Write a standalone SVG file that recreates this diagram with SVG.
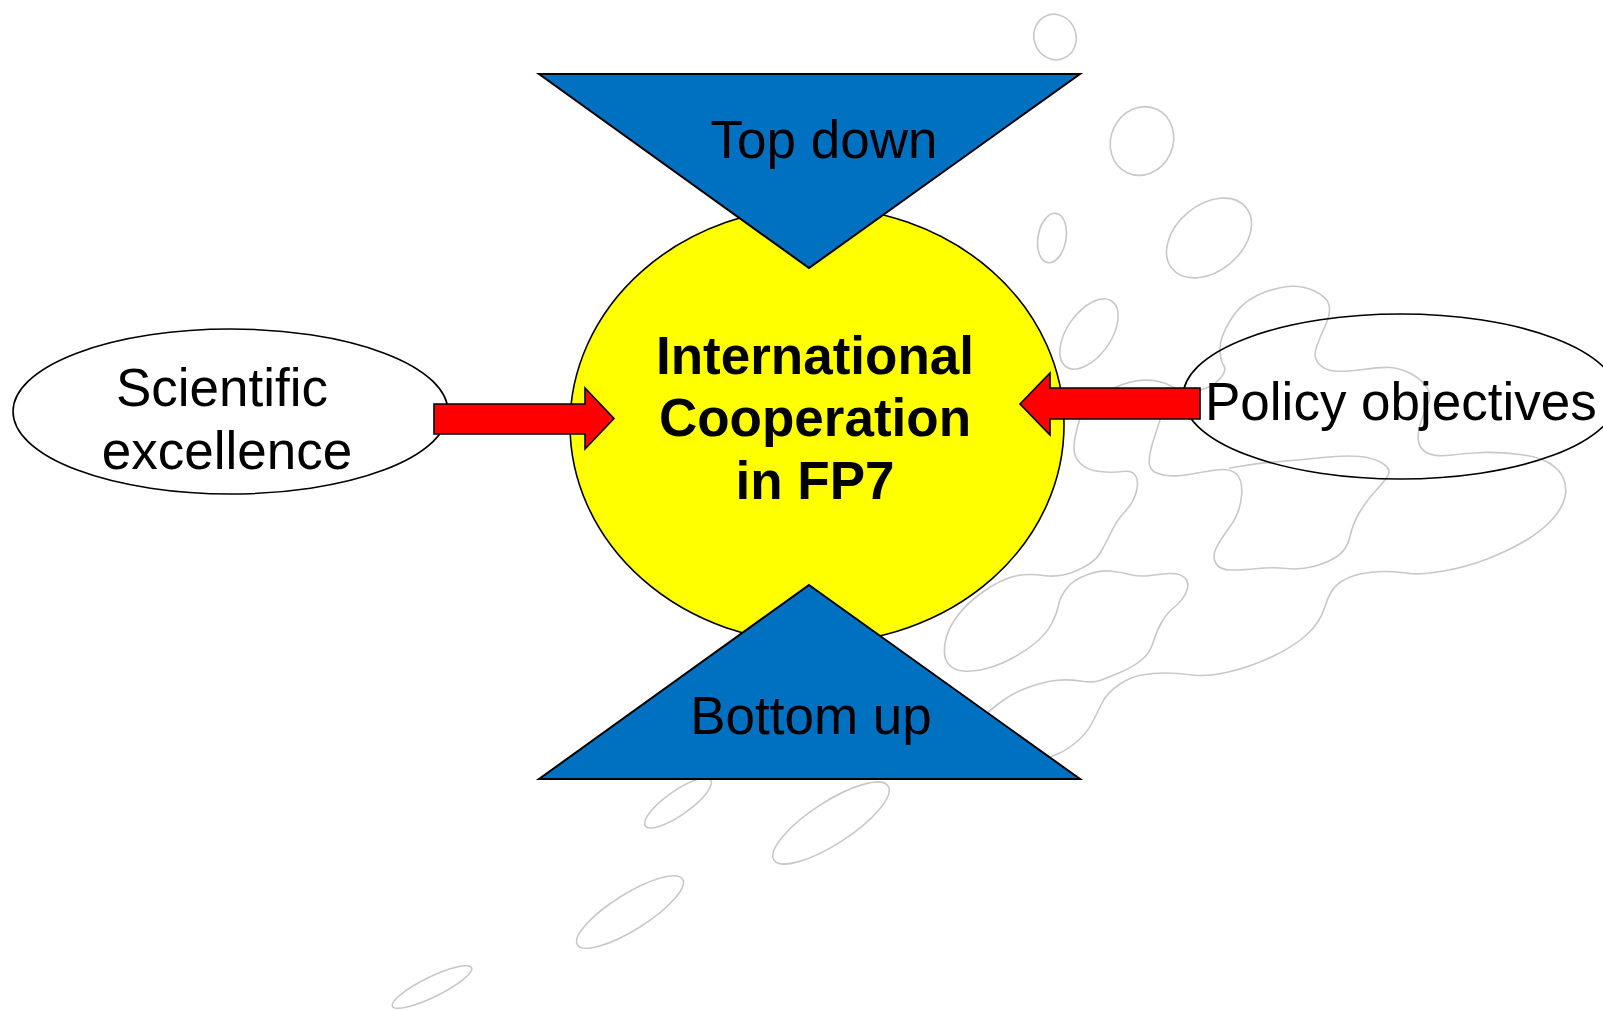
<svg xmlns="http://www.w3.org/2000/svg" width="1603" height="1011" viewBox="0 0 1603 1011">
<style>
.bg{fill:none;stroke:#c8c8c8;stroke-width:1.6;stroke-linejoin:round;stroke-linecap:round}
.tri{fill:#0070C0;stroke:#000;stroke-width:2}
.arr{fill:#FF0000;stroke:#000;stroke-width:1.6}
.oval{stroke:#000;stroke-width:1.6}
.t{font-family:"Liberation Sans",Arial,sans-serif;font-size:53px;fill:#000}
.b{font-family:"Liberation Sans",Arial,sans-serif;font-size:53px;font-weight:bold;fill:#000;text-anchor:middle}
</style>
<rect width="1603" height="1011" fill="#fff"/>
<g id="background">
<ellipse class="bg" cx="1055" cy="37" rx="21" ry="23" transform="rotate(-20 1055 37)"/>
<ellipse class="bg" cx="1142" cy="141" rx="31" ry="35" transform="rotate(25 1142 141)"/>
<ellipse class="bg" cx="1052" cy="238" rx="14" ry="25" transform="rotate(10 1052 238)"/>
<ellipse class="bg" cx="1209" cy="238" rx="33" ry="48" transform="rotate(50 1209 238)"/>
<ellipse class="bg" cx="1089" cy="334" rx="22" ry="40" transform="rotate(35 1089 334)"/>
<ellipse class="bg" cx="678" cy="803" rx="40" ry="12" transform="rotate(-35 678 803)"/>
<ellipse class="bg" cx="831" cy="823" rx="68" ry="21" transform="rotate(-33 831 823)"/>
<ellipse class="bg" cx="630" cy="912" rx="62" ry="18" transform="rotate(-32 630 912)"/>
<ellipse class="bg" cx="432" cy="987" rx="44" ry="10" transform="rotate(-26 432 987)"/>
<path class="bg" d="M1050,757 L1058.5,753.5 Q1067,750 1077,741.5 Q1087,733 1092,723 Q1097,713 1102,703 Q1107,693 1118.5,685 Q1130,677 1141.5,675 Q1153,673 1165,673 Q1177,673 1192,675 Q1207,677 1228.5,672 Q1250,667 1271.5,657 Q1293,647 1306.5,635 Q1320,623 1325,606.5 Q1330,590 1338.5,583.5 Q1347,577 1360,574 Q1373,571 1386.5,571.5 Q1400,572 1410,573.5 Q1420,575 1443.5,571 Q1467,567 1488.5,558.5 Q1510,550 1526.5,540 Q1543,530 1553,518.5 Q1563,507 1565,497 Q1567,487 1563.5,478.5 Q1560,470 1550,463.5 Q1540,457 1520,454.5 Q1500,452 1483.5,452.5 Q1467,453 1452,455 Q1437,457 1428.5,453.5 Q1420,450 1418.5,441.5 Q1417,433 1421,421.5 Q1425,410 1428.5,402.5 Q1432,395 1426,386.5 Q1420,378 1409.5,373 Q1399,368 1390,367.5 Q1381,367 1363,369.5 Q1345,372 1334.5,371 Q1324,370 1318.5,363.5 Q1313,357 1316.5,347 Q1320,337 1325.5,325 Q1331,313 1329,305 Q1327,297 1314.5,291 Q1302,285 1287.5,286.5 Q1273,288 1257,295.5 Q1241,303 1230.5,320 Q1220,337 1220,348.5 Q1220,360 1223.5,365 Q1227,370 1221,377.5 Q1215,385 1205,388.5 L1195,392"/>
<path class="bg" d="M1080,418 L1077,429 Q1074,440 1074,448.5 Q1074,457 1080.5,463.5 Q1087,470 1099.5,471.5 Q1112,473 1122.5,471.5 Q1133,470 1136,476.5 Q1139,483 1136,493 Q1133,503 1125,511.5 Q1117,520 1111,532.5 Q1105,545 1099.5,554 Q1094,563 1077,570.5 Q1060,578 1043.5,575.5 Q1027,573 1013.5,576.5 Q1000,580 983.5,591.5 Q967,603 957,616.5 Q947,630 945,643.5 Q943,657 948,663.5 Q953,670 963,671 Q973,672 986.5,668.5 Q1000,665 1013.5,657.5 Q1027,650 1037,641.5 Q1047,633 1052,623 Q1057,613 1058.5,605 Q1060,597 1066.5,588.5 Q1073,580 1086.5,575 Q1100,570 1110,571 Q1120,572 1130,574.5 Q1140,577 1150,575.5 Q1160,574 1170,573.5 Q1180,573 1185,578 Q1190,583 1186.5,591.5 Q1183,600 1175,606.5 Q1167,613 1162,621.5 Q1157,630 1153.5,641.5 Q1150,653 1141.5,660 Q1133,667 1120,672.5 Q1107,678 1100,680.5 Q1093,683 1080,681 Q1067,679 1055,680.5 Q1043,682 1028,687.5 Q1013,693 1001.5,701.5 Q990,710 982.5,717.5 L975,725"/>
<path class="bg" d="M1105,392 Q1123,383 1135.5,381 Q1148,379 1158.5,381.5 Q1169,384 1174.5,388 L1180,392"/>
<path class="bg" d="M1160,420 L1154,438.5 Q1148,457 1149.5,465 Q1151,473 1163.5,475 Q1176,477 1189,474.5 Q1202,472 1216,470 Q1230,468 1236.5,474 Q1243,480 1241.5,496.5 Q1240,513 1230,526.5 Q1220,540 1216,548.5 Q1212,557 1216,563.5 Q1220,570 1231.5,570 Q1243,570 1258,568.5 Q1273,567 1286.5,568.5 Q1300,570 1313.5,566.5 Q1327,563 1337,556.5 Q1347,550 1350,536.5 Q1353,523 1360,511.5 Q1367,500 1375,491.5 Q1383,483 1387.5,476.5 Q1392,470 1383.5,464 Q1375,458 1360,456.5 Q1345,455 1322.5,457.5 Q1300,460 1280,461.5 Q1260,463 1245,465.5 L1230,468"/>
</g>
<g id="scientific">
<ellipse class="oval" cx="230.5" cy="411.5" rx="217.5" ry="82.5" fill="#fff"/>
<text class="t" x="222" y="406" text-anchor="middle">Scientific</text>
<text class="t" x="227" y="469" text-anchor="middle">excellence</text>
</g>
<g id="center">
<ellipse cx="817" cy="425" rx="247" ry="218" fill="#FFFF00" stroke="#000" stroke-width="1.6"/>
</g>
<g id="topdown">
<polygon class="tri" points="539,74 1080,74 809,268"/>
<text class="t" x="824" y="158" text-anchor="middle">Top down</text>
</g>
<g id="bottomup">
<polygon class="tri" points="809,585 1080,779 539,779"/>
<text class="t" x="811" y="734" text-anchor="middle">Bottom up</text>
</g>
<g id="policy">
<ellipse class="oval" cx="1400.5" cy="396.5" rx="217.5" ry="82.5" fill="none"/>
</g>
<g id="connectors">
<polygon class="arr" points="434,404 585,404 585,388 614,418.5 585,449 585,434 434,434"/>
<polygon class="arr" points="1200,388 1050,388 1050,373 1020,404 1050,435 1050,419 1200,419"/>
</g>
<g id="labels">
<text class="t" x="1205" y="420">Policy objectives</text>
<text class="b" x="815" y="374">International</text>
<text class="b" x="815" y="436">Cooperation</text>
<text class="b" x="815" y="499">in FP7</text>
</g>
</svg>
